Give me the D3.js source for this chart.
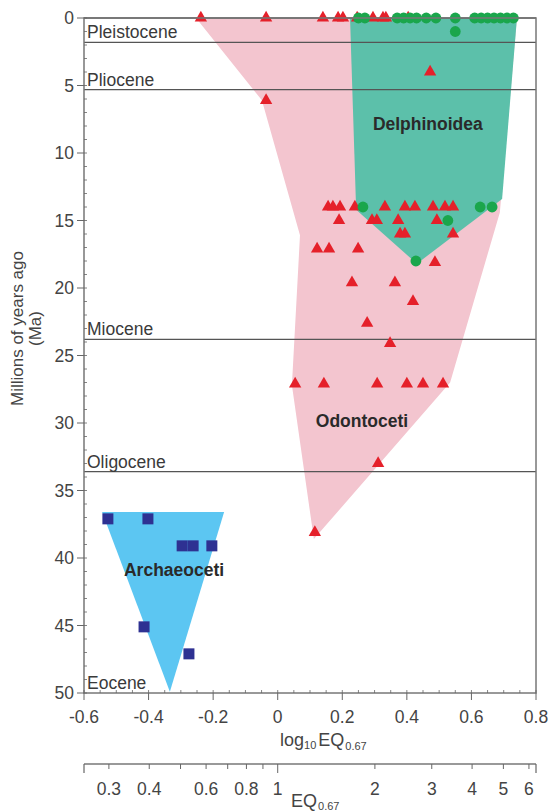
<!DOCTYPE html>
<html>
<head>
<meta charset="utf-8">
<script src="https://cdn.jsdelivr.net/npm/d3@7"></script>
<style>
  html, body { margin: 0; padding: 0; background: #fff; }
  svg { display: block; font-family: "Liberation Sans", Arial, Helvetica, sans-serif; }
</style>
</head>
<body>
<svg id="chart" width="551" height="812"></svg>
<script>
// Encephalization quotient (log10 EQ0.67) of cetaceans through time (Ma)

// Odontoceti (toothed whales) — red triangles
const odontEQ  = [-0.238, -0.036, 0.140, 0.187, 0.202, 0.246, 0.295, 0.326, 0.335, 0.404,
                  0.472, -0.036,
                  0.156, 0.171, 0.193, 0.239, 0.332, 0.394, 0.425, 0.481, 0.518, 0.543,
                  0.190, 0.292, 0.307, 0.373, 0.493,
                  0.379, 0.394, 0.543,
                  0.122, 0.159, 0.249,
                  0.487, 0.230, 0.363, 0.419, 0.277, 0.348,
                  0.054, 0.143, 0.308, 0.400, 0.450, 0.512,
                  0.311, 0.115];
const odontAge = [0, 0, 0, 0, 0, 0, 0, 0, 0, 0,
                  4.0, 6.1,
                  14.0, 14.0, 14.0, 14.0, 14.0, 14.0, 14.0, 14.0, 14.0, 14.0,
                  15.0, 15.0, 15.0, 15.0, 15.0,
                  16.0, 16.0, 16.0,
                  17.1, 17.1, 17.1,
                  18.1, 19.6, 19.6, 21.0, 22.6, 24.1,
                  27.1, 27.1, 27.1, 27.1, 27.1, 27.1,
                  33.0, 38.1];

// Delphinoidea — green circles
const delphEQ  = [0.25, 0.27, 0.37, 0.39, 0.41, 0.43, 0.46, 0.49, 0.55, 0.61, 0.63, 0.65, 0.67, 0.69, 0.71, 0.73,
                  0.55, 0.264, 0.627, 0.664, 0.527, 0.428];
const delphAge = [0, 0, 0, 0, 0, 0, 0, 0, 0, 0, 0, 0, 0, 0, 0, 0,
                  1.0, 14.0, 14.0, 14.0, 15.0, 18.0];

// Archaeoceti — navy squares
const archEQ  = [-0.526, -0.402, -0.296, -0.262, -0.204, -0.414, -0.275];
const archAge = [37.1, 37.1, 39.1, 39.1, 39.1, 45.1, 47.1];

// Outlines of the three groups [log10 EQ, Ma]
const odontHull = [[-0.253, 0], [0.741, 0], [0.688, 14.4], [0.534, 27.0], [0.112, 38.6],
                   [0.044, 27.2], [0.069, 16.1], [-0.049, 6.1]];
const delphHull = [[0.224, 0], [0.741, 0], [0.695, 13.4], [0.431, 18.2], [0.243, 14.2]];
const archHull  = [[-0.544, 36.6], [-0.166, 36.6], [-0.334, 49.9]];

// Epoch boundaries (Ma) and their names
const epochNames = ["Pleistocene", "Pliocene", "Miocene", "Oligocene", "Eocene"];
const epochBase  = [1.8, 5.3, 23.8, 33.6, 50];

// Axis ticks
const xTicks   = [-0.6, -0.4, -0.2, 0, 0.2, 0.4, 0.6, 0.8];
const yTicks   = [0, 5, 10, 15, 20, 25, 30, 35, 40, 45, 50];
const eqTicks  = [0.3, 0.4, 0.5, 0.6, 0.7, 0.8, 0.9, 1, 2, 3, 4, 5, 6];
const eqLabels = [0.3, 0.4, 0.6, 0.8, 1, 2, 3, 4, 5, 6];

const svg = d3.select("#chart");
const L = 84, R = 536, T = 18, B = 693;

const x = d3.scaleLinear().domain([-0.6, 0.8]).range([L, R]);
const y = d3.scaleLinear().domain([0, 50]).range([T, B]);
// EQ axis shares the same horizontal mapping through log10
const xEQ = d3.scaleLog().domain([Math.pow(10, -0.6), Math.pow(10, 0.8)]).range([L, R]);

const line = d3.line().x(d => x(d[0])).y(d => y(d[1]));
const poly = pts => line(pts) + "Z";

// Group outlines
svg.append("path").attr("d", poly(odontHull)).attr("fill", "#f3c5cf");
svg.append("path").attr("d", poly(delphHull)).attr("fill", "#5cc0aa");
svg.append("path").attr("d", poly(archHull)).attr("fill", "#5cc6f2");

// Epoch boundary lines
const lineCol = "#555";
[0].concat(epochBase.slice(0, 4)).forEach(a => {
  svg.append("line").attr("x1", L).attr("x2", R).attr("y1", y(a)).attr("y2", y(a))
    .attr("stroke", lineCol).attr("stroke-width", 1.3);
});

// Epoch names sit just above each lower boundary
svg.selectAll("text.epoch").data(epochNames).join("text")
  .attr("class", "epoch")
  .attr("x", L + 3)
  .attr("y", (d, i) => y(epochBase[i]) - 4)
  .attr("font-size", 17.5)
  .attr("fill", "#3a3a3a")
  .text(d => d);

// Group names
const grp = [["Delphinoidea", 0.465, 8.3], ["Odontoceti", 0.261, 30.3], ["Archaeoceti", -0.321, 41.3]];
svg.selectAll("text.grp").data(grp).join("text")
  .attr("class", "grp")
  .attr("x", d => x(d[1])).attr("y", d => y(d[2]))
  .attr("text-anchor", "middle")
  .attr("font-size", 17.5).attr("font-weight", "bold")
  .attr("fill", "#2a2a2a")
  .text(d => d[0]);

// Markers
const tri = d3.symbol().type(d3.symbolTriangle).size(66);
svg.selectAll("path.odont").data(odontEQ).join("path")
  .attr("class", "odont")
  .attr("d", tri)
  .attr("transform", (d, i) => `translate(${x(d)},${y(odontAge[i])})`)
  .attr("fill", "#e5202a");

svg.selectAll("circle.delph").data(delphEQ).join("circle")
  .attr("class", "delph")
  .attr("cx", d => x(d)).attr("cy", (d, i) => y(delphAge[i]))
  .attr("r", 5.4)
  .attr("fill", "#1aa64c");

svg.selectAll("rect.arch").data(archEQ).join("rect")
  .attr("class", "arch")
  .attr("x", d => x(d) - 5.5).attr("y", (d, i) => y(archAge[i]) - 5.5)
  .attr("width", 11).attr("height", 11)
  .attr("fill", "#2e3192");

// Frame
svg.append("rect").attr("x", L).attr("y", T).attr("width", R - L).attr("height", B - T)
  .attr("fill", "none").attr("stroke", "#777").attr("stroke-width", 1.5);

const axCol = "#666";
const tickFont = 17.5;

// Left axis: major ticks outside, minor every 1 Ma inside
const gy = svg.append("g");
gy.selectAll("line.minor").data(d3.range(0, 51, 1)).join("line")
  .attr("x1", L).attr("x2", L + 3).attr("y1", d => y(d)).attr("y2", d => y(d))
  .attr("stroke", axCol).attr("stroke-width", 0.8);
gy.selectAll("line.major").data(yTicks).join("line")
  .attr("x1", L - 7).attr("x2", L).attr("y1", d => y(d)).attr("y2", d => y(d))
  .attr("stroke", axCol).attr("stroke-width", 1);
gy.selectAll("text").data(yTicks).join("text")
  .attr("x", L - 10).attr("y", d => y(d)).attr("dy", "0.35em")
  .attr("text-anchor", "end").attr("font-size", tickFont).attr("fill", "#444")
  .text(d => d);

// Bottom axis (log10 EQ)
const gx = svg.append("g");
gx.selectAll("line.minor").data(d3.range(-0.6, 0.801, 0.05)).join("line")
  .attr("x1", d => x(d)).attr("x2", d => x(d)).attr("y1", B - 3).attr("y2", B)
  .attr("stroke", axCol).attr("stroke-width", 0.8);
gx.selectAll("line.major").data(xTicks).join("line")
  .attr("x1", d => x(d)).attr("x2", d => x(d)).attr("y1", B).attr("y2", B + 7)
  .attr("stroke", axCol).attr("stroke-width", 1);
gx.selectAll("text").data(xTicks).join("text")
  .attr("x", d => x(d)).attr("y", B + 30)
  .attr("text-anchor", "middle").attr("font-size", tickFont).attr("fill", "#444")
  .text(d => String(d));

// Axis titles
const logTitle = svg.append("text").attr("x", 280).attr("y", 746)
  .attr("font-size", 18).attr("fill", "#444");
logTitle.append("tspan").text("log");
logTitle.append("tspan").attr("font-size", 11).attr("dy", 3).text("10");
logTitle.append("tspan").attr("dy", -3).attr("dx", 2).text("EQ");
logTitle.append("tspan").attr("font-size", 11).attr("dy", 4).attr("dx", 1).text("0.67");

// Second axis: EQ on a log scale
const eqY = 764;
const ge = svg.append("g");
ge.append("line").attr("x1", L).attr("x2", R).attr("y1", eqY).attr("y2", eqY)
  .attr("stroke", "#777").attr("stroke-width", 1.5);
ge.selectAll("line.t").data(eqTicks).join("line")
  .attr("x1", d => xEQ(d)).attr("x2", d => xEQ(d)).attr("y1", eqY).attr("y2", d => d === 1 ? eqY + 9 : eqY + 5)
  .attr("stroke", axCol).attr("stroke-width", 1);
[L, R].forEach(px => ge.append("line").attr("x1", px).attr("x2", px)
  .attr("y1", eqY).attr("y2", eqY + 9).attr("stroke", axCol).attr("stroke-width", 1.2));
ge.selectAll("text").data(eqLabels).join("text")
  .attr("x", d => xEQ(d)).attr("y", eqY + 31)
  .attr("text-anchor", "middle").attr("font-size", tickFont).attr("fill", "#444")
  .text(d => d);

const eqTitle = svg.append("text").attr("x", 291).attr("y", 807)
  .attr("font-size", 18).attr("fill", "#444");
eqTitle.append("tspan").text("EQ");
eqTitle.append("tspan").attr("font-size", 11).attr("dy", 3).attr("dx", 1).text("0.67");

// Vertical title
const yTitle = svg.append("text")
  .attr("transform", `translate(23, ${y(23.0)}) rotate(-90)`)
  .attr("text-anchor", "middle").attr("font-size", 17).attr("fill", "#444");
yTitle.append("tspan").attr("x", 0).attr("dy", 0).text("Millions of years ago");
yTitle.append("tspan").attr("x", 0).attr("dy", 18).text("(Ma)");
</script>
</body>
</html>
